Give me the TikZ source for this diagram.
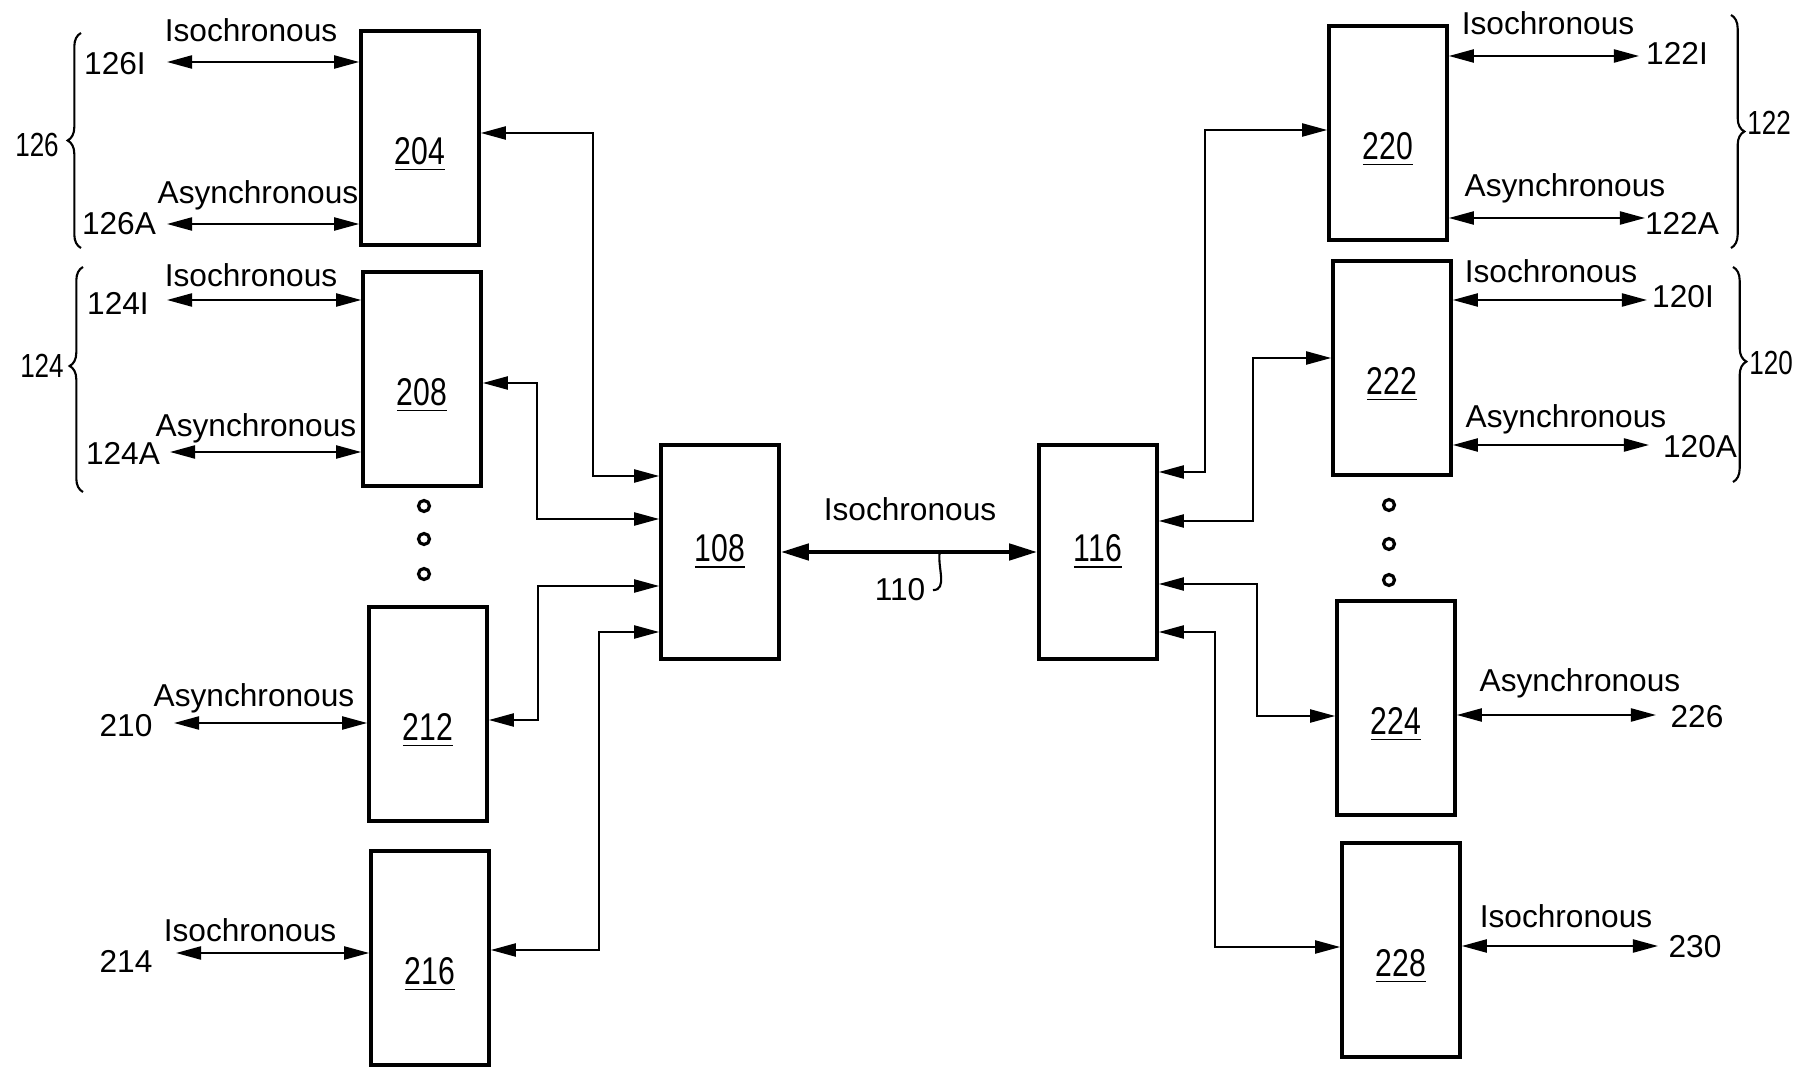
\documentclass[tikz,border=0pt]{standalone}
\usepackage{fontspec}
\setmainfont{Liberation Sans}
\newfontfamily\numfont[FakeStretch=0.78]{Liberation Sans}
\usepackage{tikz}
\usetikzlibrary{arrows.meta, calc, decorations.pathreplacing}
\tikzset{
  >={Triangle[length=2.5mm,width=1.3mm]},
  unitbox/.style={draw, line width=1pt, minimum width=1.18cm, minimum height=2.14cm,
    inner sep=0pt, font=\numfont\fontsize{11}{12}\selectfont},
  sidebox/.style={unitbox, text height=15pt, text depth=0pt},
  hubbox/.style={unitbox},
  linkedge/.style={draw, line width=0.6pt, <->},
  buslink/.style={draw, line width=1.3pt,
    {Triangle[length=2.8mm,width=1.6mm]}-{Triangle[length=2.8mm,width=1.6mm]}},
  modetext/.style={anchor=base, inner sep=1pt, font=\fontsize{9}{10}\selectfont},
  reftext/.style={anchor=base, inner sep=2pt, font=\fontsize{9}{10}\selectfont},
  grouptext/.style={anchor=base, inner sep=1pt, font=\numfont\fontsize{9.5}{10}\selectfont},
  groupbrace/.style={draw, line width=0.6pt, decorate, decoration={brace, amplitude=3.8pt}},
  gapdot/.style={draw, line width=0.9pt, circle, minimum size=1.1mm, inner sep=0pt},
  leadline/.style={draw, line width=0.6pt}
}
\begin{document}
\begin{tikzpicture}[x=0.01cm, y=-0.01cm]
  \useasboundingbox (0,0) rectangle (1796,1067);
  \node[sidebox] (b204) at (420,138) {\underline{204}};
  \node[sidebox] (b208) at (422,379) {\underline{208}};
  \node[sidebox] (b212) at (428,714) {\underline{212}};
  \node[sidebox] (b216) at (430,958) {\underline{216}};
  \node[hubbox] (b108) at (720,552) {\underline{108}};
  \node[hubbox] (b116) at (1098,552) {\underline{116}};
  \node[sidebox] (b220) at (1388,133) {\underline{220}};
  \node[sidebox] (b222) at (1392,368) {\underline{222}};
  \node[sidebox] (b224) at (1396,708) {\underline{224}};
  \node[sidebox] (b228) at (1401,950) {\underline{228}};
  \node[gapdot] (d1) at (424,506) {};
  \node[gapdot] (d2) at (424,539) {};
  \node[gapdot] (d3) at (424,574) {};
  \node[gapdot] (d4) at (1389,505) {};
  \node[gapdot] (d5) at (1389,544) {};
  \node[gapdot] (d6) at (1389,580) {};
  \draw[linkedge] ($(b108.west)+(0,-76)$) -| (593,133) -- ($(b204.east)+(0,-5)$);
  \draw[linkedge] ($(b108.west)+(0,-33)$) -| (537,383) -- ($(b208.east)+(0,4)$);
  \draw[linkedge] ($(b108.west)+(0,34)$) -| (538,720) -- ($(b212.east)+(0,6)$);
  \draw[linkedge] ($(b108.west)+(0,80)$) -| (599,950) -- ($(b216.east)+(0,-8)$);
  \draw[linkedge] ($(b116.east)+(0,-80)$) -| (1205,130) -- ($(b220.west)+(0,-3)$);
  \draw[linkedge] ($(b116.east)+(0,-31)$) -| (1253,358) -- ($(b222.west)+(0,-10)$);
  \draw[linkedge] ($(b116.east)+(0,32)$) -| (1257,716) -- ($(b224.west)+(0,8)$);
  \draw[linkedge] ($(b116.east)+(0,80)$) -| (1215,947) -- ($(b228.west)+(0,-3)$);
  \draw[buslink] (b108.east) -- (b116.west);
  \node[modetext] (mBus) at (910,521) {Isochronous};
  \coordinate (t110) at ($(b108.east)!0.62!(b116.west)$);
  \node[reftext] (n110) at (900,601) {110};
  \draw[leadline] (n110.east) to[out=0, in=-100] (t110);
  \coordinate (e126I) at (167,62);
  \coordinate (e126A) at (167,224);
  \coordinate (e124I) at (167,300);
  \coordinate (e124A) at (170,452);
  \coordinate (e210) at (174,723);
  \coordinate (e214) at (176,953);
  \draw[linkedge] (e126I) -- (e126I -| b204.west);
  \draw[linkedge] (e126A) -- (e126A -| b204.west);
  \draw[linkedge] (e124I) -- (e124I -| b208.west);
  \draw[linkedge] (e124A) -- (e124A -| b208.west);
  \draw[linkedge] (e210) -- (e210 -| b212.west);
  \draw[linkedge] (e214) -- (e214 -| b216.west);
  \coordinate (e122I) at (1639,56);
  \coordinate (e122A) at (1645,218);
  \coordinate (e120I) at (1647,300);
  \coordinate (e120A) at (1649,445);
  \coordinate (e226) at (1656,715);
  \coordinate (e230) at (1658,946);
  \draw[linkedge] (e122I -| b220.east) -- (e122I);
  \draw[linkedge] (e122A -| b220.east) -- (e122A);
  \draw[linkedge] (e120I -| b222.east) -- (e120I);
  \draw[linkedge] (e120A -| b222.east) -- (e120A);
  \draw[linkedge] (e226 -| b224.east) -- (e226);
  \draw[linkedge] (e230 -| b228.east) -- (e230);
  \node[modetext] (m126I) at (251,42) {Isochronous};
  \node[reftext] (p126I) at (115,75) {126I};
  \node[modetext] (m126A) at (258,204) {Asynchronous};
  \node[reftext] (p126A) at (119,235) {126A};
  \node[modetext] (m124I) at (251,287) {Isochronous};
  \node[reftext] (p124I) at (118,315) {124I};
  \node[modetext] (m124A) at (256,437) {Asynchronous};
  \node[reftext] (p124A) at (123,465) {124A};
  \node[modetext] (m210) at (254,707) {Asynchronous};
  \node[reftext] (p210) at (126,737) {210};
  \node[modetext] (m214) at (250,942) {Isochronous};
  \node[reftext] (p214) at (126,972) {214};
  \node[modetext] (m122I) at (1548,35) {Isochronous};
  \node[reftext] (p122I) at (1677,65) {122I};
  \node[modetext] (m122A) at (1565,197) {Asynchronous};
  \node[reftext] (p122A) at (1682,235) {122A};
  \node[modetext] (m120I) at (1551,283) {Isochronous};
  \node[reftext] (p120I) at (1683,308) {120I};
  \node[modetext] (m120A) at (1566,428) {Asynchronous};
  \node[reftext] (p120A) at (1700,458) {120A};
  \node[modetext] (m226) at (1580,692) {Asynchronous};
  \node[reftext] (p226) at (1697,728) {226};
  \node[modetext] (m230) at (1566,928) {Isochronous};
  \node[reftext] (p230) at (1695,957) {230};
  \draw[groupbrace] (81,248) -- (81,33);
  \draw[groupbrace, decoration={aspect=0.56}] (83,492) -- (83,267);
  \draw[groupbrace] (1731,15) -- (1731,248);
  \draw[groupbrace, decoration={aspect=0.44}] (1733,267) -- (1733,482);
  \node[grouptext] (g126) at (37,157) {126};
  \node[grouptext] (g124) at (42,378) {124};
  \node[grouptext] (g122) at (1769,135) {122};
  \node[grouptext] (g120) at (1771,375) {120};
\end{tikzpicture}
\end{document}
